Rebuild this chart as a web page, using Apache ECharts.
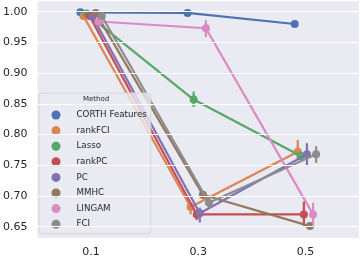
<!DOCTYPE html>
<html>
<head>
<meta charset="utf-8">
<script src="https://cdn.jsdelivr.net/npm/echarts@6/dist/echarts.min.js"></script>
<style>html,body{margin:0;padding:0;background:#fff;}#chart{width:360px;height:259px;}</style>
</head>
<body>
<div id="chart"></div>
<script>
const categories = ['0.1', '0.3', '0.5'];
const methods = ['CORTH Features', 'rankFCI', 'Lasso', 'rankPC', 'PC', 'MMHC', 'LINGAM', 'FCI'];

const corthValues  = [0.999, 0.998, 0.980];
const rankFCIValues = [0.993, 0.682, 0.772];
const lassoValues  = [0.997, 0.857, 0.765];
const rankPCValues = [0.993, 0.670, 0.670];
const pcValues     = [0.992, 0.672, 0.768];
const mmhcValues   = [0.998, 0.702, 0.651];
const lingamValues = [0.984, 0.973, 0.670];
const fciValues    = [0.993, 0.689, 0.768];

const corthCI   = [null, null, null];
const rankFCICI = [null, [0.670, 0.689], [0.760, 0.791]];
const lassoCI   = [null, [0.845, 0.870], [0.758, 0.772]];
const rankPCCI  = [null, [0.661, 0.678], [0.651, 0.691]];
const pcCI      = [null, [0.657, 0.681], [0.749, 0.786]];
const mmhcCI    = [null, [0.695, 0.708], [0.647, 0.656]];
const lingamCI  = [null, [0.959, 0.986], [0.651, 0.689]];
const fciCI     = [null, [0.681, 0.697], [0.754, 0.781]];

const yTicks = [0.65, 0.70, 0.75, 0.80, 0.85, 0.90, 0.95, 1.00];

const allValues = [corthValues, rankFCIValues, lassoValues, rankPCValues, pcValues, mmhcValues, lingamValues, fciValues];
const allCI = [corthCI, rankFCICI, lassoCI, rankPCCI, pcCI, mmhcCI, lingamCI, fciCI];
const palette = ['#4C72B0', '#DD8452', '#55A868', '#C44E52', '#8172B3', '#937860', '#DA8BC3', '#8C8C8C'];

const FONT = 'DejaVu Sans';
const dodge = 0.2;
const n = methods.length;
const series = [];
methods.forEach((m, i) => {
  const off = -dodge / 2 + i * dodge / (n - 1);
  const color = palette[i];
  series.push({
    name: m,
    type: 'line',
    xAxisIndex: 1,
    data: allValues[i].map((v, k) => [k + off, v]),
    symbol: 'circle',
    symbolSize: 8,
    lineStyle: { color: color, width: 2.2 },
    itemStyle: { color: color },
    emphasis: { disabled: true },
    animation: false,
    z: 2 + i * 0.01
  });
  const ciData = [];
  allCI[i].forEach((ci, k) => { if (ci) ciData.push([k + off, ci[0], ci[1]]); });
  series.push({
    name: m + ' CI',
    type: 'custom',
    xAxisIndex: 1,
    data: ciData,
    encode: { x: 0, y: [1, 2] },
    animation: false,
    z: 2 + i * 0.01,
    renderItem: (params, api) => {
      const x = api.value(0);
      const p1 = api.coord([x, api.value(1)]);
      const p2 = api.coord([x, api.value(2)]);
      return { type: 'line', shape: { x1: p1[0], y1: p1[1], x2: p2[0], y2: p2[1] }, style: { stroke: color, lineWidth: 2.2 } };
    }
  });
});

const chart = echarts.init(document.getElementById('chart'), null, { renderer: 'canvas' });
chart.setOption({
  animation: false,
  textStyle: { fontFamily: FONT },
  grid: { left: 35, right: 1, top: 1, bottom: 21, containLabel: false, show: true, backgroundColor: '#EAEAF2', borderWidth: 0 },
  xAxis: [
    {
      type: 'category', data: categories, boundaryGap: true,
      axisLine: { show: false }, axisTick: { show: false }, splitLine: { show: false },
      axisLabel: { color: '#262626', fontSize: 11, fontFamily: FONT, margin: 9 }
    },
    { type: 'value', min: -0.5, max: 2.5, show: false, splitLine: { show: false } }
  ],
  yAxis: {
    type: 'value', min: 0.6316, max: 1.0174,
    axisLine: { show: false }, axisTick: { show: false },
    splitLine: { show: false },
    axisLabel: { color: '#262626', fontSize: 11, fontFamily: FONT, margin: 10,
      customValues: yTicks, formatter: v => v.toFixed(2) }
  },
  legend: {
    orient: 'vertical', left: 39, top: 93,
    data: methods,
    icon: 'circle', itemWidth: 9, itemHeight: 9, itemGap: 6.6,
    padding: [17.5, 4, 5, 12.5],
    backgroundColor: 'rgba(234,234,242,0.8)', borderColor: '#d4d4da', borderWidth: 1, borderRadius: 3,
    textStyle: { color: '#262626', fontSize: 8.7, fontFamily: FONT, padding: [0, 0, 0, 11] },
    selectedMode: false
  },
  graphic: [{ type: 'text', left: 83, top: 95.5, z: 100,
    style: { text: 'Method', fontSize: 7, fill: '#262626', fontFamily: FONT } }],
  series: series.concat([{
    type: 'line', xAxisIndex: 1, data: [], silent: true, z: 1,
    markLine: { silent: true, symbol: 'none', animation: false, label: { show: false },
      lineStyle: { color: '#ffffff', width: 1, type: 'solid' },
      data: yTicks.map(t => ({ yAxis: t })) }
  }])
});
</script>
</body>
</html>
